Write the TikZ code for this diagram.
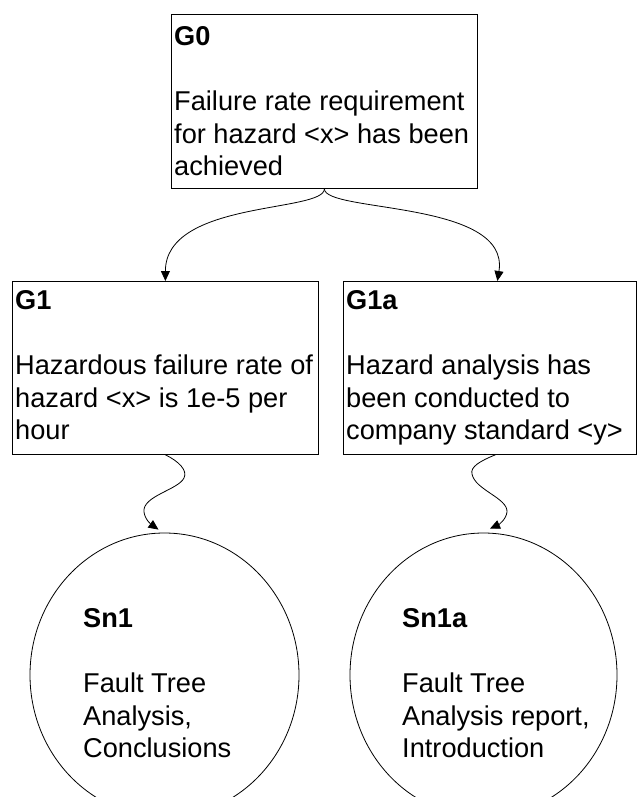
\documentclass[tikz,border=0pt]{standalone}
\usepackage{fontspec}
\setmainfont{Liberation Sans}
\usetikzlibrary{arrows.meta,shapes.geometric}
\tikzset{
  gbox/.style={draw=black, line width=0.8pt, rectangle, anchor=north west, inner sep=0pt},
  solbox/.style={draw=black, line width=0.8pt, ellipse, inner sep=0pt},
  gtext/.style={anchor=north west, inner sep=0pt, align=left, font=\fontsize{27.2}{32.5}\selectfont},
  solvedby/.style={draw=black, line width=0.8pt, -{Triangle[length=10pt,width=9pt]}},
}
\begin{document}
\begin{tikzpicture}[x=1pt,y=-1pt]
\useasboundingbox (0,0) rectangle (637,797);
\clip (0,0) rectangle (637,797);
\fill[white] (0,0) rectangle (637,797);

\node[gbox, minimum width=306pt, minimum height=174pt] (G0) at (171,14) {};
\node[gbox, minimum width=306pt, minimum height=173pt] (G1) at (12,281) {};
\node[gbox, minimum width=293pt, minimum height=173pt] (G1a) at (343,281) {};
\node[solbox, minimum width=269pt, minimum height=284pt] (Sn1) at (164.5,675) {};
\node[solbox, minimum width=267pt, minimum height=284pt] (Sn1a) at (483.5,675) {};

\node[gtext] (G0t) at (174,26.5) {\textbf{G0}\\[32.5pt]Failure rate requirement\\for hazard <x> has been\\achieved};
\node[gtext] (G1t) at (15,290.5) {\textbf{G1}\\[32.5pt]Hazardous failure rate of\\hazard <x> is 1e-5 per\\hour};
\node[gtext] (G1at) at (346,290.5) {\textbf{G1a}\\[32.5pt]Hazard analysis has\\been conducted to\\company standard <y>};
\node[gtext] (Sn1t) at (83,608.5) {\textbf{Sn1}\\[32.5pt]Fault Tree\\Analysis,\\Conclusions};
\node[gtext] (Sn1at) at (402,608.5) {\textbf{Sn1a}\\[32.5pt]Fault Tree\\Analysis report,\\Introduction};

\draw[solvedby] (G0.south) .. controls +(0,24) and +(0,-81) .. (G1.north);
\draw[solvedby] (G0.south) .. controls +(0,24) and +(13,-81) .. ([xshift=7.5pt]G1a.north);

\draw[solvedby] (G1.south) .. controls (178,461) and (188,470) .. (184,478)
  .. controls (178,490) and (142,496) .. (144,512)
  .. controls (145,520) and (152,525) .. ([xshift=-6pt,yshift=3pt]Sn1.north);
\draw[solvedby] ([xshift=5.5pt]G1a.south) .. controls (480,461) and (470,467) .. (472,474)
  .. controls (475,490) and (508,498) .. (507,512)
  .. controls (506,520) and (498,525) .. ([xshift=6.5pt,yshift=4pt]Sn1a.north);
\end{tikzpicture}
\end{document}
